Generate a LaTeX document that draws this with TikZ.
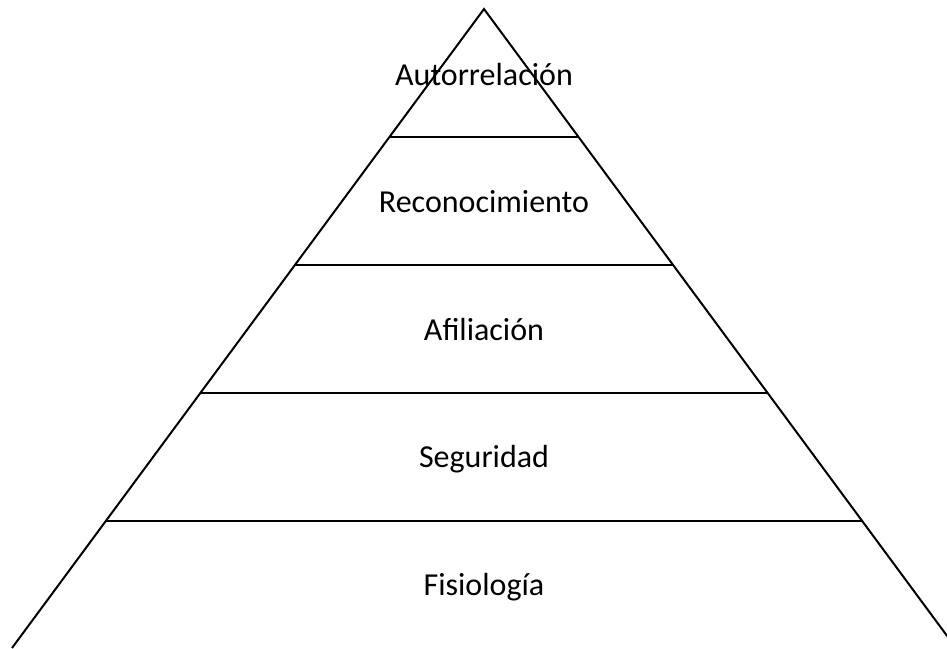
\documentclass[tikz,border=0pt]{standalone}
\usepackage{fontspec}
\setmainfont{Carlito}
\usetikzlibrary{calc}
\begin{document}
\begin{tikzpicture}[x=1pt,y=-1pt,line width=2pt]
\tikzstyle{level}=[font=\fontsize{32}{34}\selectfont];
\useasboundingbox (0,0) rectangle (947,648);
\clip (0,0) rectangle (947,648);
\coordinate (T) at (484,9);
\coordinate (L) at (12,648);
\coordinate (R) at (956,648);
\draw (L) -- (T) -- (R);
\foreach \y in {137,265,393,521}
  \draw[line width=2.6pt] ($(T)!{(\y-9)/639}!(L)$) -- ($(T)!{(\y-9)/639}!(R)$);
\node (auto) at (484,75) [level] {Autorrelación};
\node (reco) at (484,202) [level] {Reconocimiento};
\node (afil) at (484,330) [level] {Afiliación};
\node (segu) at (484,459) [level] {Seguridad};
\node (fisi) at (484,587) [level] {Fisiología};
\end{tikzpicture}
\end{document}
